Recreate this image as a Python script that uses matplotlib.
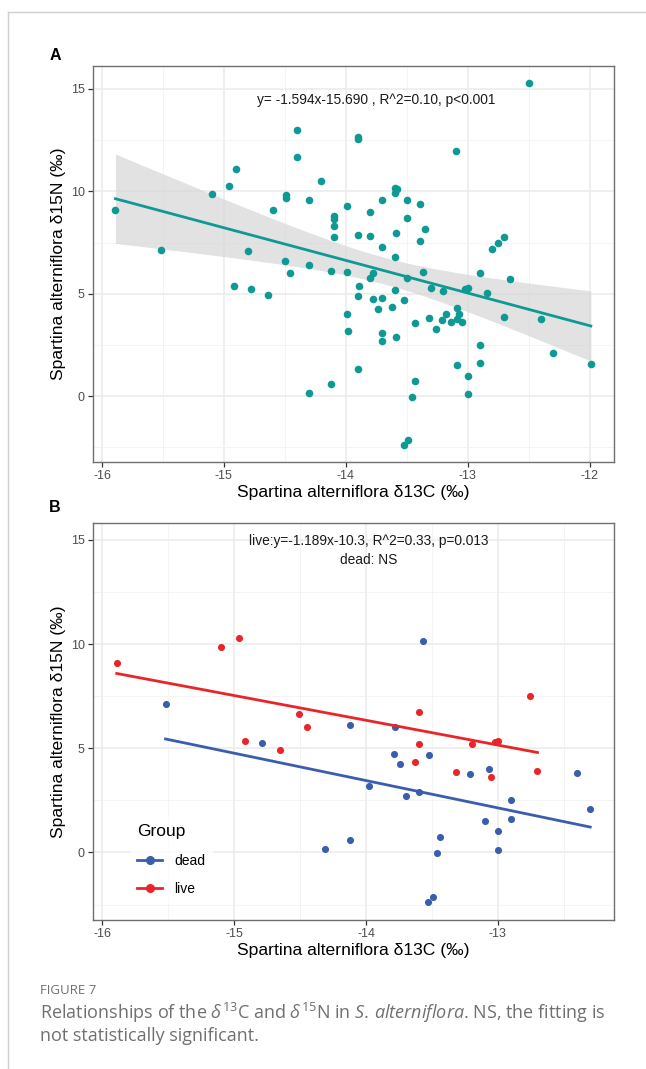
import numpy as np
import matplotlib
matplotlib.use("Agg")
import matplotlib.pyplot as plt
from matplotlib.lines import Line2D

# ---------------- data ----------------
# Panel A: all samples (d13C, d15N)
a_x = [-15.89, -15.52, -15.10, -14.96, -14.90, -14.92, -14.80, -14.78, -14.64, -14.60,
       -14.49, -14.49, -14.50, -14.46, -14.40, -14.40, -14.30, -14.30, -14.30, -14.20,
       -14.12, -14.12, -14.10, -14.10, -14.10, -14.10, -13.99, -13.99, -13.99, -13.98,
       -13.90, -13.90, -13.90, -13.89, -13.90, -13.90, -13.80, -13.80, -13.78, -13.80,
       -13.78, -13.74, -13.70, -13.70, -13.70, -13.70, -13.70, -13.62, -13.60, -13.58,
       -13.60, -13.59, -13.60, -13.60, -13.59, -13.52, -13.50, -13.50, -13.50, -13.49,
       -13.52, -13.46, -13.43, -13.43, -13.39, -13.39, -13.37, -13.35, -13.32, -13.30,
       -13.26, -13.21, -13.20, -13.18, -13.14, -13.10, -13.09, -13.09, -13.09, -13.07,
       -13.05, -13.02, -13.00, -13.00, -13.00, -12.90, -12.90, -12.90, -12.84, -12.80,
       -12.75, -12.70, -12.70, -12.65, -12.50, -12.40, -12.30, -11.99]
a_y = [9.09, 7.13, 9.87, 10.26, 11.09, 5.37, 7.08, 5.23, 4.92, 9.09,
       9.82, 9.66, 6.60, 6.00, 12.98, 11.68, 9.57, 6.38, 0.13, 10.50,
       6.11, 0.57, 8.79, 8.63, 8.30, 7.78, 9.29, 6.07, 4.00, 3.18,
       12.67, 12.57, 7.89, 5.39, 4.89, 1.30, 8.99, 7.80, 6.00, 5.78,
       4.72, 4.25, 9.60, 7.28, 4.79, 3.09, 2.69, 4.35, 10.18, 10.10,
       9.90, 7.96, 6.77, 5.18, 2.90, 4.67, 9.57, 8.68, 5.78, -2.15,
       -2.41, -0.05, 0.73, 3.57, 9.38, 7.57, 6.06, 8.14, 3.83, 5.26,
       3.26, 3.71, 5.13, 4.00, 3.61, 11.98, 4.30, 3.78, 1.50, 4.00,
       3.61, 5.21, 5.28, 0.99, 0.10, 6.00, 2.49, 1.60, 5.02, 7.18,
       7.49, 7.78, 3.88, 5.72, 15.27, 3.78, 2.10, 1.58]
a_slope, a_intercept = -1.594, -15.690

# Panel B: live plants
live_x = [-15.89, -15.10, -14.96, -14.51, -14.92, -14.65, -14.45, -13.60, -13.60, -13.63,
          -13.32, -13.20, -13.02, -13.00, -13.05, -12.76, -12.70]
live_y = [9.11, 9.88, 10.28, 6.63, 5.36, 4.93, 6.02, 6.74, 5.20, 4.35,
          3.84, 5.20, 5.28, 5.33, 3.62, 7.51, 3.90]
live_slope, live_intercept = -1.189, -10.3
# Panel B: dead plants
dead_x = [-15.52, -14.79, -14.12, -14.31, -14.12, -13.57, -13.78, -13.79, -13.74, -13.52,
          -13.98, -13.70, -13.60, -13.21, -13.07, -12.90, -12.90, -13.10, -13.00, -13.00,
          -13.44, -13.46, -13.49, -13.53, -12.40, -12.30]
dead_y = [7.14, 5.27, 6.11, 0.16, 0.58, 10.13, 6.02, 4.72, 4.27, 4.67,
          3.18, 2.70, 2.91, 3.76, 4.03, 2.50, 1.60, 1.50, 1.01, 0.10,
          0.75, -0.03, -2.13, -2.40, 3.81, 2.11]

a_xticks = [-16, -15, -14, -13, -12]
b_xticks = [-16, -15, -14, -13]
yticks = [0, 5, 10, 15]

eq_a = "y= -1.594x-15.690 , R^2=0.10, p<0.001"
eq_b1 = "live:y=-1.189x-10.3, R^2=0.33, p=0.013"
eq_b2 = "dead: NS"
xlabel = "Spartina alterniflora \u03b413C (\u2030)"
ylabel = "Spartina alterniflora \u03b415N (\u2030)"

TEAL = "#0E9A93"
RED = "#E8262A"
BLUE = "#3A5DAE"

plt.rcParams['font.family'] = ['Liberation Sans', 'DejaVu Sans']
plt.rcParams['axes.unicode_minus'] = False

fig = plt.figure(figsize=(6.46, 10.69), dpi=100)
W, H = 646, 1069

def fx(px):
    return px / W

def fy(py):
    return 1 - py / H

def style_axes(ax, xticks, xlim, ylim):
    ax.set_xlim(*xlim)
    ax.set_ylim(*ylim)
    ax.set_xticks(xticks)
    ax.set_yticks(yticks)
    minors = [t + 0.5 for t in xticks[:-1]]
    if xticks[-1] + 0.5 < xlim[1]:
        minors.append(xticks[-1] + 0.5)
    ax.set_xticks(minors, minor=True)
    ax.set_yticks([-2.5, 2.5, 7.5, 12.5], minor=True)
    ax.grid(True, which='major', color='#EBEBEB', lw=1.1, zorder=0)
    ax.grid(True, which='minor', color='#F2F2F2', lw=0.6, zorder=0)
    ax.set_axisbelow(True)
    for s in ax.spines.values():
        s.set_color('#707070')
        s.set_linewidth(1.0)
    ax.tick_params(which='major', direction='out', length=3.5, width=0.9, color='#333333',
                   labelsize=9, labelcolor='#4D4D4D', pad=2.5)
    ax.tick_params(which='minor', length=0)
    ax.set_xlabel(xlabel, fontsize=12.6, color='black', labelpad=2)
    ax.set_ylabel(ylabel, fontsize=12.6, color='black', labelpad=3)

# ---------------- Panel A ----------------
axA = fig.add_axes([fx(93), fy(462), fx(614) - fx(93), fy(66) - fy(462)])
style_axes(axA, a_xticks, (-16.074, -11.80), (-3.22, 16.12))
xa = np.asarray(a_x); ya = np.asarray(a_y)
xs = np.linspace(xa.min(), xa.max(), 100)
n = len(xa)
b_ls, a_ls = np.polyfit(xa, ya, 1)
resid = ya - (a_ls + b_ls * xa)
s = np.sqrt(np.sum(resid ** 2) / (n - 2))
se = s * np.sqrt(1 / n + (xs - xa.mean()) ** 2 / np.sum((xa - xa.mean()) ** 2))
t = 1.985
yfit = a_intercept + a_slope * xs
axA.fill_between(xs, yfit - t * se, yfit + t * se, color='#D6D6D6', alpha=0.7, lw=0, zorder=1)
axA.scatter(xa, ya, s=30, color=TEAL, lw=0, zorder=3)
axA.plot(xs, yfit, color=TEAL, lw=2.0, zorder=4)
axA.text(-13.75, 14.46, eq_a, ha='center', va='center', fontsize=9.9, color='#1a1a1a')

# ---------------- Panel B ----------------
axB = fig.add_axes([fx(93), fy(920), fx(614) - fx(93), fy(522.7) - fy(920)])
style_axes(axB, b_xticks, (-16.07, -12.12), (-3.24, 15.83))

xd = np.asarray(dead_x); yd = np.asarray(dead_y)
bd, ad = np.polyfit(xd, yd, 1)
xl = np.array([xd.min(), xd.max()])
axB.scatter(xd, yd, s=26, color=BLUE, lw=0, zorder=3)
axB.plot(xl, ad + bd * xl, color=BLUE, lw=2.0, zorder=4)

xlv = np.asarray(live_x); ylv = np.asarray(live_y)
xl = np.array([xlv.min(), xlv.max()])
axB.scatter(xlv, ylv, s=26, color=RED, lw=0, zorder=3)
axB.plot(xl, live_intercept + live_slope * xl, color=RED, lw=2.0, zorder=4)

axB.text(-13.98, 14.97, eq_b1, ha='center', va='center', fontsize=9.9, color='#1a1a1a')
axB.text(-13.98, 14.04, eq_b2, ha='center', va='center', fontsize=9.9, color='#1a1a1a')

handles = [Line2D([0], [0], color=BLUE, lw=2.0, marker='o', markersize=5.5),
           Line2D([0], [0], color=RED, lw=2.0, marker='o', markersize=5.5)]
leg = axB.legend(handles, ['dead', 'live'], title='Group', loc='lower left',
                 bbox_to_anchor=(0.058, 0.025), frameon=True, fontsize=10,
                 title_fontsize=12.5, handlelength=1.8, handletextpad=0.9,
                 labelspacing=1.05, borderpad=0.5)
leg.get_frame().set_facecolor('white')
leg.get_frame().set_edgecolor('none')
leg._legend_box.align = 'left'

# ---------------- labels / frame / caption ----------------
fig.text(fx(55), fy(56), 'A', fontsize=11.5, fontweight='bold', ha='center', va='center')
fig.text(fx(55), fy(507), 'B', fontsize=11.5, fontweight='bold', ha='center', va='center')

border = '#CFCFCF'
fig.add_artist(Line2D([fx(8), 1.0], [fy(12), fy(12)], color=border, lw=1.0))
fig.add_artist(Line2D([fx(8), fx(8)], [fy(12), 0.0], color=border, lw=1.0))

plt.rcParams['mathtext.fontset'] = 'custom'
plt.rcParams['mathtext.rm'] = 'Open Sans'
plt.rcParams['mathtext.it'] = 'Open Sans:italic'
plt.rcParams['mathtext.bf'] = 'Open Sans:bold'

cap_col = '#707070'
fig.text(fx(40), fy(990), 'FIGURE 7', fontsize=9.5, color=cap_col, family='Open Sans',
         ha='left', va='center')
fig.text(fx(40), fy(1013),
         r'Relationships of the $\delta^{13}$C and $\delta^{15}$N in $\mathit{S.\,alterniflora}$. NS, the fitting is',
         fontsize=13, color=cap_col, family='Open Sans', ha='left', va='center')
fig.text(fx(40), fy(1036), 'not statistically significant.', fontsize=13, color=cap_col,
         family='Open Sans', ha='left', va='center')

fig.savefig('out.png', dpi=100, facecolor='white')
